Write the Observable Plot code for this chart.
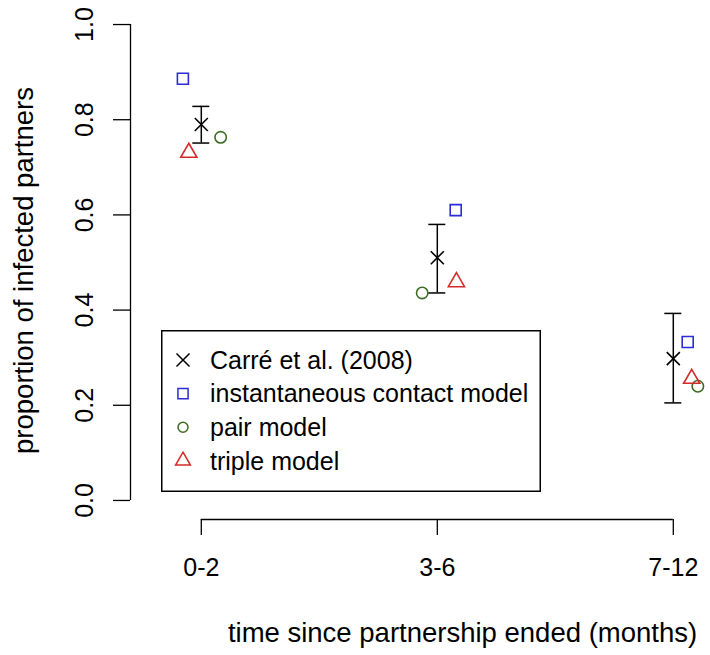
<!DOCTYPE html>
<html><head><meta charset="utf-8">
<script src="https://cdn.jsdelivr.net/npm/d3@7"></script>
<script src="https://cdn.jsdelivr.net/npm/@observablehq/plot@0.6"></script>
<style>
body{margin:0;background:#fff;}
#wrap{position:relative;width:710px;height:655px;font-family:"Liberation Sans",Arial,Helvetica,sans-serif;}
#legend{position:absolute;left:161px;top:330px;}
</style></head>
<body><div id="wrap"></div>
<script>
const categories = ["0-2", "3-6", "7-12"];
const carre = [0.790, 0.510, 0.298];
const carreLow = [0.751, 0.436, 0.205];
const carreHigh = [0.828, 0.580, 0.393];
const instantaneous = [0.886, 0.610, 0.333];
const pairModel = [0.763, 0.436, 0.240];
const tripleModel = [0.731, 0.459, 0.256];
const jitterInstantaneous = [-0.078, 0.078, 0.061];
const jitterPair = [0.082, -0.064, 0.104];
const jitterTriple = [-0.053, 0.081, 0.078];
const seriesNames = ["Carré et al. (2008)", "instantaneous contact model", "pair model", "triple model"];
const yTicks = [0, 0.2, 0.4, 0.6, 0.8, 1.0];
const xTitle = "time since partnership ended (months)";
const yTitle = "proportion of infected partners";

const colors = ["#000000", "#2b2bd8", "#3b6b22", "#d42a2a"];
const FONT = '"Liberation Sans", Arial, Helvetica, sans-serif';
const FS = 25;
const FS_TITLE = 27.5;

const pos = categories.map((c, i) => i + 1);
const carreData = categories.map((c, i) => ({x: pos[i], y: carre[i], lo: carreLow[i], hi: carreHigh[i]}));
const mk = (vals, jit) => categories.map((c, i) => ({x: pos[i] + jit[i], y: vals[i]}));
const instData = mk(instantaneous, jitterInstantaneous);
const pairData = mk(pairModel, jitterPair);
const tripleData = mk(tripleModel, jitterTriple);

const xDomain = [0.7, 3.2];
const yDomain = [-0.04, 1.04];

const chart = Plot.plot({
  width: 710, height: 655,
  marginLeft: 130, marginRight: 0, marginTop: 5, marginBottom: 136,
  style: {fontFamily: FONT, fontSize: FS + "px", background: "#fff", color: "#000", overflow: "visible"},
  x: {domain: xDomain, range: [130, 720]},
  y: {domain: yDomain},
  marks: [
    Plot.ruleX([xDomain[0]], {y1: yTicks[0], y2: yTicks[yTicks.length - 1], stroke: "#000", strokeWidth: 1.3}),
    Plot.axisY({ticks: yTicks, tickSize: 17, tickPadding: 21, tickRotate: -90, tickFormat: d3.format(".1f"), fontSize: FS, strokeWidth: 1.3, label: null}),
    Plot.ruleY([yDomain[0]], {x1: pos[0], x2: pos[pos.length - 1], stroke: "#000", strokeWidth: 1.3}),
    Plot.axisX({ticks: pos, tickSize: 16, tickPadding: 23, tickFormat: v => categories[v - 1], fontSize: FS, strokeWidth: 1.3, label: null}),
    Plot.ruleX(carreData, {x: "x", y1: "lo", y2: "hi", stroke: "#000", strokeWidth: 1.5}),
    Plot.ruleY(carreData, {y: "lo", x1: "x", x2: "x", insetLeft: -8.5, insetRight: -8.5, stroke: "#000", strokeWidth: 1.5}),
    Plot.ruleY(carreData, {y: "hi", x1: "x", x2: "x", insetLeft: -8.5, insetRight: -8.5, stroke: "#000", strokeWidth: 1.5}),
    Plot.dot(carreData, {x: "x", y: "y", symbol: "times", r: 6, stroke: colors[0], strokeWidth: 1.6}),
    Plot.dot(instData, {x: "x", y: "y", symbol: "square", r: 6.2, stroke: colors[1], fill: "none", strokeWidth: 1.6}),
    Plot.dot(pairData, {x: "x", y: "y", symbol: "circle", r: 5.7, stroke: colors[2], fill: "none", strokeWidth: 1.6}),
    Plot.dot(tripleData, {x: "x", y: "y", symbol: "triangle", r: 6, stroke: colors[3], fill: "none", strokeWidth: 1.6}),
    Plot.text([yTitle], {frameAnchor: "left", textAnchor: "middle", rotate: -90, dx: -98, dy: 8, lineAnchor: "bottom", fontSize: FS_TITLE, fill: "#000"}),
    Plot.text([xTitle], {frameAnchor: "bottom", textAnchor: "middle", dx: 42, dy: 122, lineAnchor: "bottom", fontSize: FS_TITLE, fill: "#000"})
  ]
});
document.getElementById("wrap").appendChild(chart);

// legend box (R-style), drawn as SVG overlay
const symbols = [d3.symbolTimes, d3.symbolSquare, d3.symbolCircle, d3.symbolTriangle];
const symSizes = [Math.PI * 36, Math.PI * 6.2 * 6.2 * 0.85, Math.PI * 5 * 5, Math.PI * 5.5 * 5.5];
const LW = 380, LH = 162;
const leg = d3.select("#wrap").append("svg").attr("id", "legend")
  .attr("width", LW).attr("height", LH)
  .style("font-family", FONT).style("font-size", FS + "px");
leg.append("rect").attr("x", 0.75).attr("y", 0.75).attr("width", LW - 1.5).attr("height", LH - 1.5)
  .attr("fill", "#fff").attr("stroke", "#000").attr("stroke-width", 1.5);
seriesNames.forEach((name, i) => {
  const cy = 30 + 33.6 * i;
  leg.append("path").attr("d", d3.symbol(symbols[i], symSizes[i])())
    .attr("transform", `translate(22,${cy})`)
    .attr("fill", "none").attr("stroke", colors[i]).attr("stroke-width", 1.5);
  leg.append("text").attr("x", 49).attr("y", cy).attr("dy", "0.35em").attr("fill", "#000").text(name);
});
</script>
</body></html>
